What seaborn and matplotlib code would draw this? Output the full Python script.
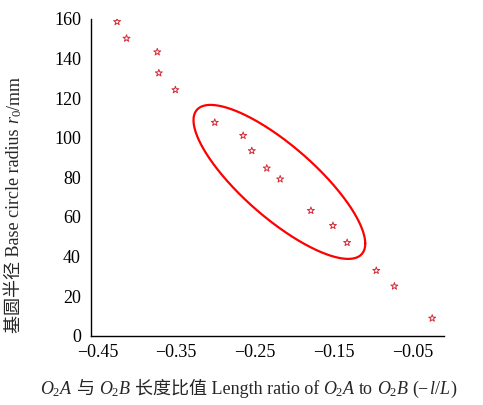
import numpy as np
import pandas as pd
import matplotlib
matplotlib.use("Agg")
import matplotlib.pyplot as plt
import seaborn as sns

# Length ratio O2A/O2B (negative) against base circle radius r0 (mm)
length_ratio = [-0.425, -0.413, -0.374, -0.372, -0.351, -0.301, -0.265, -0.254,
                -0.235, -0.218, -0.179, -0.151, -0.133, -0.096, -0.073, -0.025]
base_radius = [158.6, 150.2, 143.3, 132.7, 124.2, 107.7, 101.1, 93.4,
               84.6, 79.1, 63.2, 55.6, 47.0, 32.9, 25.0, 8.8]

# Highlight ellipse around the middle cluster (centre, half-ranges, phase)
ell_center = (-0.219, 77.7)
ell_half_x = 0.109
ell_half_y = 38.9
ell_phase = 2.50

x_ticks = [-0.45, -0.35, -0.25, -0.15, -0.05]
x_minor = [-0.40, -0.30, -0.20, -0.10, -0.01]
y_ticks = [0, 20, 40, 60, 80, 100, 120, 140, 160]

sns.set_theme(style="white")
serif_cjk = ["Liberation Serif", "Noto Sans CJK SC"]
plt.rcParams["font.family"] = serif_cjk
plt.rcParams["mathtext.fontset"] = "custom"
plt.rcParams["mathtext.rm"] = "Liberation Serif"
plt.rcParams["mathtext.it"] = "Liberation Serif:italic"
plt.rcParams["axes.unicode_minus"] = True

FS = 13
fig = plt.figure(figsize=(4.83, 4.05), dpi=100)
ax = fig.add_axes([0.1878, 0.1711, 0.9193 - 0.1878, 0.9531 - 0.1711])

df = pd.DataFrame({"ratio": length_ratio, "radius": base_radius})
sns.scatterplot(data=df, x="ratio", y="radius", ax=ax, marker="*", s=28,
                facecolor="none", edgecolor="#d42a35", linewidth=0.7, zorder=3)

t = np.linspace(0, 2 * np.pi, 400)
ex = ell_center[0] + ell_half_x * np.cos(t)
ey = ell_center[1] + ell_half_y * np.cos(t - ell_phase)
ax.plot(ex, ey, color="#ff0000", lw=1.6, zorder=2)

ax.set_xlim(-0.4585, -0.01)
ax.set_ylim(0, 160)
ax.set_xticks(x_ticks)
ax.set_xticklabels([f"{v:.2f}".replace("-", "\u2212") for v in x_ticks])
ax.set_xticks(x_minor, minor=True)
ax.set_yticks(y_ticks)
ax.set_yticklabels([str(v) for v in y_ticks])
ax.tick_params(axis="both", which="both", direction="in", length=3, width=0.9,
               color="black", labelsize=FS, labelcolor="black")
ax.tick_params(axis="x", pad=6)
ax.tick_params(axis="y", pad=7)
ax.set_xlabel("")
ax.set_ylabel("")
for side in ("top", "right"):
    ax.spines[side].set_visible(False)
for side in ("left", "bottom"):
    ax.spines[side].set_color("black")
    ax.spines[side].set_linewidth(1.0)
ax.grid(False)

# x-axis label assembled from pieces so CJK text and italic symbols mix
x_pieces = [("$O_2A$", 0), ("与", 4), ("$O_2B$", 4), ("长度比值 Length ratio of", 4),
            ("$O_2A$", 3.5), ("to", 3.5), ("$O_2B$", 3.5), ("(\u2212", 3.5),
            ("$l/L$", 0), (")", 0.5)]
prev = fig.text(40 / 483, 11 / 405, x_pieces[0][0], fontsize=FS,
                family=serif_cjk, ha="left", va="baseline")
for txt, gap in x_pieces[1:]:
    prev = ax.annotate(txt, xy=(1.0, 11 / 405), xycoords=(prev, "figure fraction"),
                       xytext=(gap * 72 / 100, 0), textcoords="offset points",
                       fontsize=FS, family=serif_cjk, ha="left", va="baseline",
                       annotation_clip=False)

# y-axis label, rotated, in the same way
y_pieces = [("$r_0$", 4), ("/mm", 0)]
prev = fig.text(19.5 / 483, 72 / 405, "基圆半径 Base circle radius", fontsize=FS,
                family=serif_cjk, rotation=90, rotation_mode="anchor",
                ha="left", va="baseline")
for txt, gap in y_pieces:
    prev = ax.annotate(txt, xy=(19.5 / 483, 1.0), xycoords=("figure fraction", prev),
                       xytext=(0, gap * 72 / 100), textcoords="offset points",
                       fontsize=FS, family=serif_cjk, rotation=90,
                       rotation_mode="anchor", ha="left", va="baseline",
                       annotation_clip=False)

fig.savefig("out.png", dpi=100)
